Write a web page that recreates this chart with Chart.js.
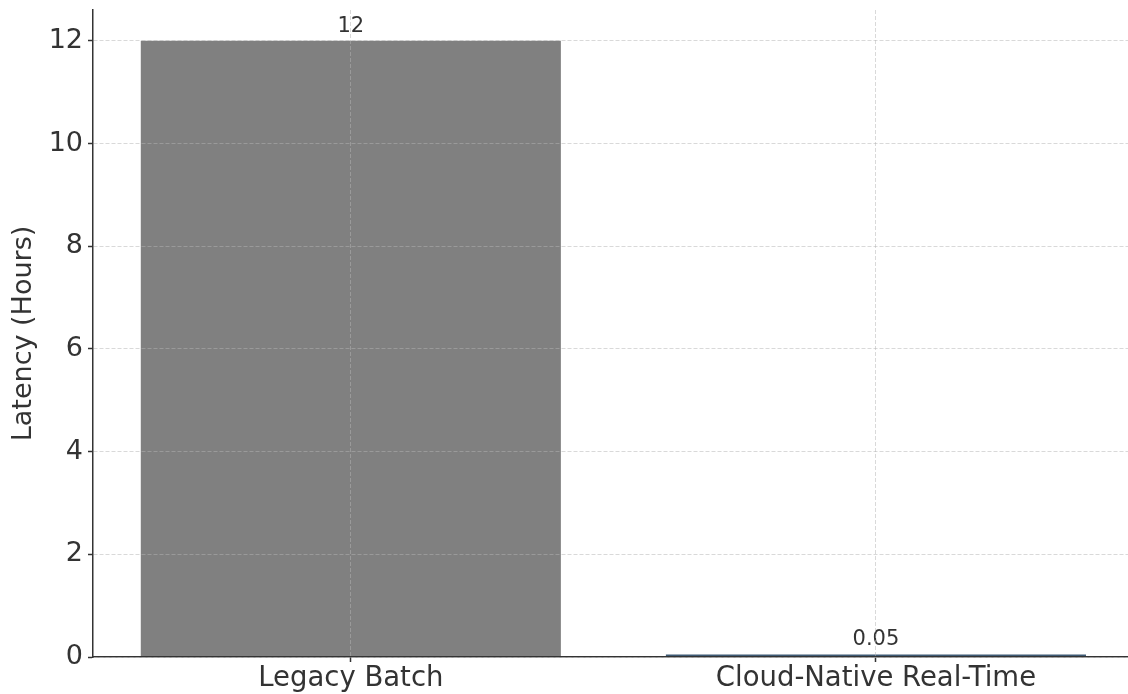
<!DOCTYPE html>
<html>
<head>
<meta charset="utf-8">
<script src="https://cdn.jsdelivr.net/npm/chart.js@4.4.1/dist/chart.umd.min.js"></script>
<style>
  html, body { margin: 0; padding: 0; background: #ffffff; overflow: hidden; }
  #wrap { width: 1128px; height: 694px; }
</style>
</head>
<body>
<div id="wrap"><canvas id="c" width="1128" height="694"></canvas></div>
<script>
// Latency per pipeline architecture
const categories = ['Legacy Batch', 'Cloud-Native Real-Time'];
const latencyHours = [12, 0.05];
const barColors = ['#808080', '#3e5a74'];
const yTicks = [0, 2, 4, 6, 8, 10, 12];

const FONT = "'DejaVu Sans', sans-serif";
const TEXT = '#333333';
const GRID = 'rgba(180,180,180,0.5)';

// Writes each bar's value just above it
const valueLabels = {
  id: 'valueLabels',
  afterDatasetsDraw(chart) {
    const ctx = chart.ctx;
    const meta = chart.getDatasetMeta(0);
    ctx.save();
    ctx.font = '21px ' + FONT;
    ctx.fillStyle = TEXT;
    ctx.textAlign = 'center';
    ctx.textBaseline = 'bottom';
    meta.data.forEach((bar, i) => {
      ctx.fillText(String(latencyHours[i]), bar.x, bar.y - 4);
    });
    ctx.restore();
  }
};

new Chart(document.getElementById('c'), {
  type: 'bar',
  data: {
    datasets: [{
      data: latencyHours.map((v, i) => ({ x: i, y: v })),
      backgroundColor: barColors,
      borderWidth: 0,
      barPercentage: 1.0,
      categoryPercentage: 0.8
    }]
  },
  options: {
    responsive: false,
    animation: false,
    devicePixelRatio: 1,
    layout: { padding: { top: 10, right: 0, bottom: 0, left: 0 } },
    plugins: { legend: { display: false }, tooltip: { enabled: false } },
    scales: {
      x: {
        type: 'linear',
        min: -0.491,
        max: 1.48,
        offset: false,
        afterBuildTicks(scale) {
          scale.ticks = categories.map((_, i) => ({ value: i }));
        },
        afterFit(scale) {
          scale.height = 37;
          scale.paddingLeft = 0;
          scale.paddingRight = 0;
        },
        ticks: {
          callback: (v) => categories[v],
          font: { family: FONT, size: 27.5 },
          color: TEXT,
          padding: 0,
          maxRotation: 0,
          autoSkip: false
        },
        grid: {
          offset: false,
          color: GRID,
          lineWidth: 1,
          tickColor: TEXT,
          tickLength: 5,
          tickWidth: 1.5,
          z: 1
        },
        border: { display: true, color: TEXT, width: 1.5, dash: [4, 2], z: 1 }
      },
      y: {
        min: 0,
        max: 12.6,
        afterBuildTicks(scale) {
          scale.ticks = yTicks.map(v => ({ value: v }));
        },
        afterFit(scale) {
          scale.width = 93;
          scale.paddingTop = 0;
          scale.paddingBottom = 0;
        },
        ticks: {
          font: { family: FONT, size: 27 },
          color: TEXT,
          padding: 5
        },
        grid: {
          color: GRID,
          lineWidth: 1,
          tickColor: TEXT,
          tickLength: 5,
          tickWidth: 1.5,
          z: 1
        },
        border: { display: true, color: TEXT, width: 1.5, dash: [4, 2], z: 1 },
        title: {
          display: true,
          text: 'Latency (Hours)',
          font: { family: FONT, size: 27 },
          color: TEXT,
          padding: { top: 8, bottom: 2 }
        }
      }
    }
  },
  plugins: [valueLabels]
});
</script>
</body>
</html>
